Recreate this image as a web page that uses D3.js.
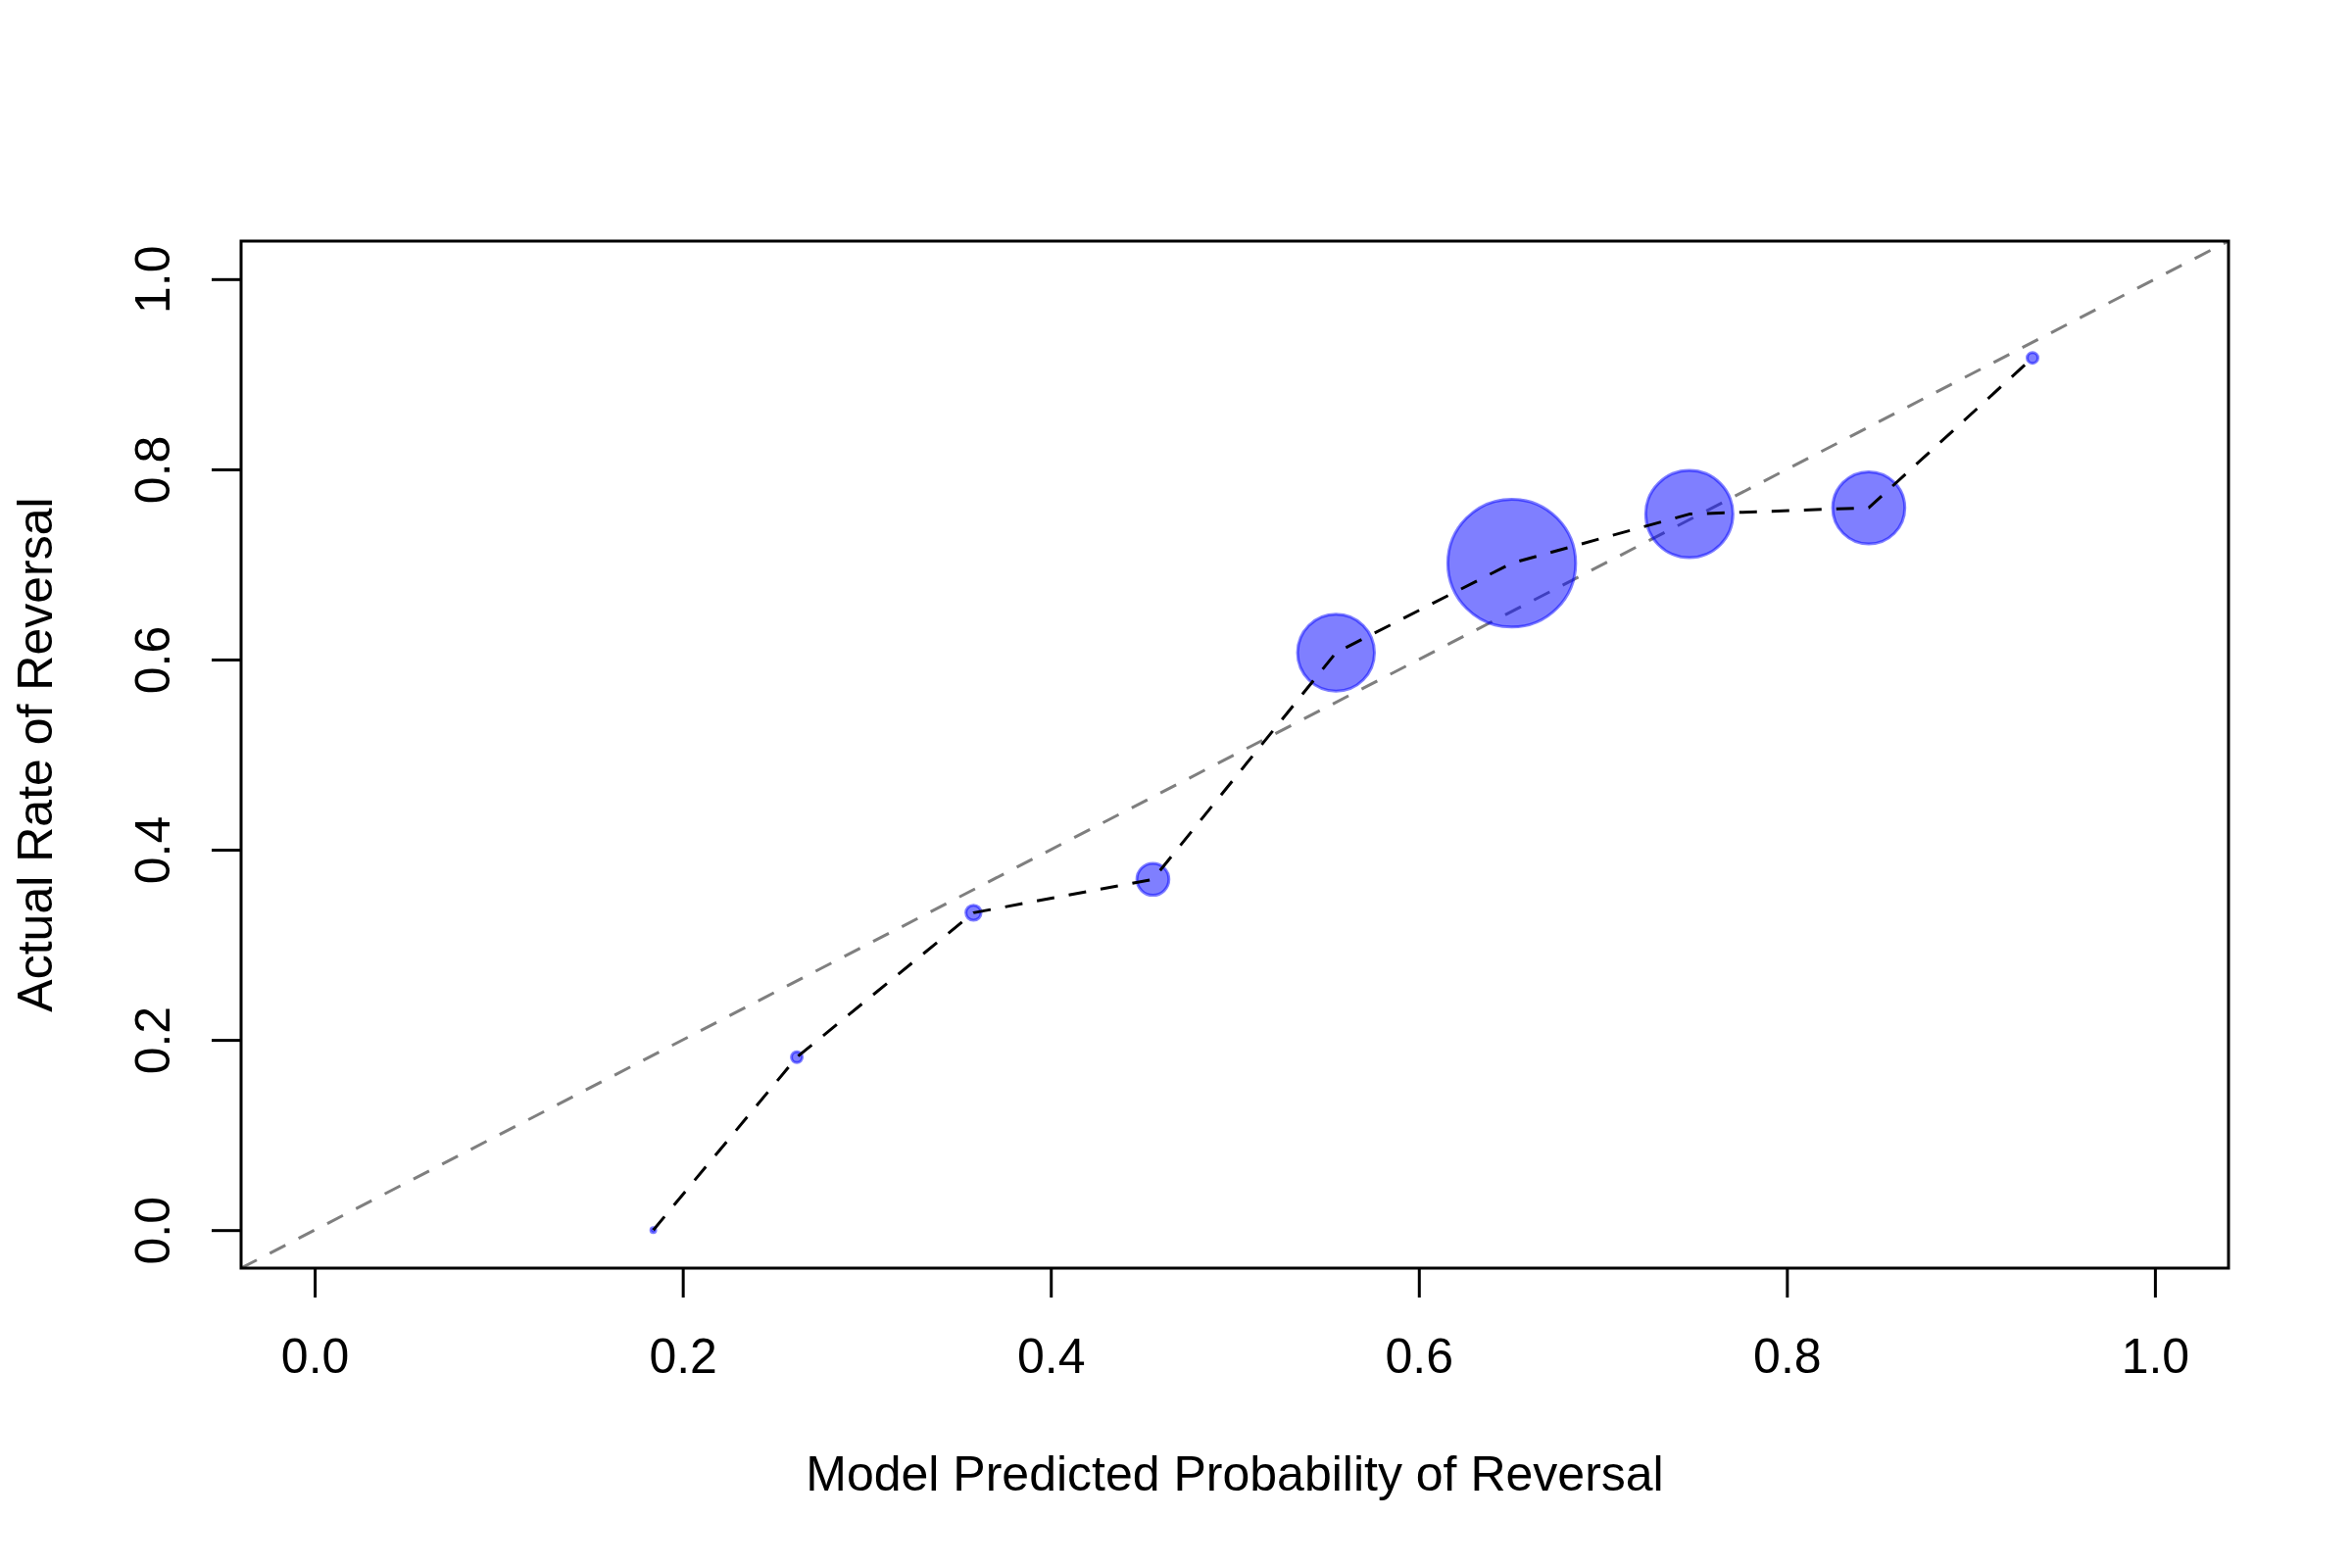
<!DOCTYPE html>
<html>
<head>
<meta charset="utf-8">
<script src="https://cdn.jsdelivr.net/npm/d3@7"></script>
<style>
  html, body { margin: 0; padding: 0; background: #fff; }
  svg { display: block; }
  text { font-family: "Liberation Sans", Arial, Helvetica, sans-serif; fill: #000; }
</style>
</head>
<body>
<svg id="chart" width="2400" height="1600"></svg>
<script>
// ---- data ----
const predicted = [0.184, 0.262, 0.358, 0.4555, 0.555, 0.6505, 0.747, 0.8445, 0.9335];
const actual    = [0.000, 0.1818, 0.3337, 0.3688, 0.6072, 0.7013, 0.7529, 0.7595, 0.9172];
const binCount  = [6, 30, 60, 266, 1537, 4251, 1980, 1354, 30];
const xTicks = [0, 0.2, 0.4, 0.6, 0.8, 1.0];
const yTicks = [0, 0.2, 0.4, 0.6, 0.8, 1.0];
const xTitle = "Model Predicted Probability of Reversal";
const yTitle = "Actual Rate of Reversal";
const diagonal = [-0.04, 1.04];

// ---- layout ----
const plot = { left: 246, right: 2274, top: 246, bottom: 1294 };
const fontSize = 50;
const svg = d3.select("#chart");

const x = d3.scaleLinear().domain([-0.04, 1.04]).range([plot.left, plot.right]);
const y = d3.scaleLinear().domain([-0.04, 1.04]).range([plot.bottom, plot.top]);
const r = d3.scaleSqrt().domain([0, d3.max(binCount)]).range([0, 65.2]);

const points = predicted.map((p, i) => ({ p, a: actual[i], n: binCount[i] }));

svg.append("defs").append("clipPath").attr("id", "clip")
  .append("rect")
  .attr("x", plot.left).attr("y", plot.top)
  .attr("width", plot.right - plot.left).attr("height", plot.bottom - plot.top);

const inner = svg.append("g").attr("clip-path", "url(#clip)");

// diagonal reference line
inner.append("path")
  .datum(diagonal)
  .attr("d", d3.line().x(d => x(d)).y(d => y(d)))
  .attr("fill", "none")
  .attr("stroke", "#7f7f7f")
  .attr("stroke-width", 3)
  .attr("stroke-dasharray", "18,15");

// bubbles
inner.selectAll("circle.bin")
  .data(points)
  .join("circle")
  .attr("class", "bin")
  .attr("cx", d => x(d.p))
  .attr("cy", d => y(d.a))
  .attr("r", d => r(d.n))
  .attr("fill", "rgba(0,0,255,0.5)")
  .attr("stroke", "rgba(0,0,255,0.5)")
  .attr("stroke-width", 3);

// connecting dashed line
inner.append("path")
  .datum(points)
  .attr("d", d3.line().x(d => x(d.p)).y(d => y(d.a)))
  .attr("fill", "none")
  .attr("stroke", "#000")
  .attr("stroke-width", 3)
  .attr("stroke-linejoin", "round")
  .attr("stroke-dasharray", "18,15");

// box
svg.append("rect")
  .attr("x", plot.left).attr("y", plot.top)
  .attr("width", plot.right - plot.left).attr("height", plot.bottom - plot.top)
  .attr("fill", "none").attr("stroke", "#000").attr("stroke-width", 3);

// x axis
const fmt = d3.format(".1f");
const gx = svg.append("g")
  .attr("transform", `translate(0,${plot.bottom})`)
  .call(d3.axisBottom(x).tickValues(xTicks).tickFormat(fmt).tickSize(30).tickPadding(41.5));
gx.select(".domain").remove();
gx.selectAll(".tick line").attr("stroke", "#000").attr("stroke-width", 3);
gx.selectAll(".tick text")
  .attr("font-size", fontSize)
  .attr("font-family", "'Liberation Sans', Arial, sans-serif")
  .attr("fill", "#000");

// y axis
const gy = svg.append("g")
  .attr("transform", `translate(${plot.left},0)`)
  .call(d3.axisLeft(y).tickValues(yTicks).tickFormat(fmt).tickSize(30));
gy.select(".domain").remove();
gy.selectAll(".tick line").attr("stroke", "#000").attr("stroke-width", 3);
gy.selectAll(".tick text")
  .attr("transform", "rotate(-90)")
  .attr("x", 0)
  .attr("y", -73)
  .attr("dy", 0)
  .attr("text-anchor", "middle")
  .attr("font-size", fontSize)
  .attr("font-family", "'Liberation Sans', Arial, sans-serif")
  .attr("fill", "#000");

// titles
svg.append("text")
  .attr("x", (plot.left + plot.right) / 2)
  .attr("y", 1521)
  .attr("text-anchor", "middle")
  .attr("font-size", fontSize)
  .text(xTitle);

svg.append("text")
  .attr("transform", `translate(53,${(plot.top + plot.bottom) / 2}) rotate(-90)`)
  .attr("text-anchor", "middle")
  .attr("font-size", fontSize)
  .text(yTitle);
</script>
</body>
</html>
